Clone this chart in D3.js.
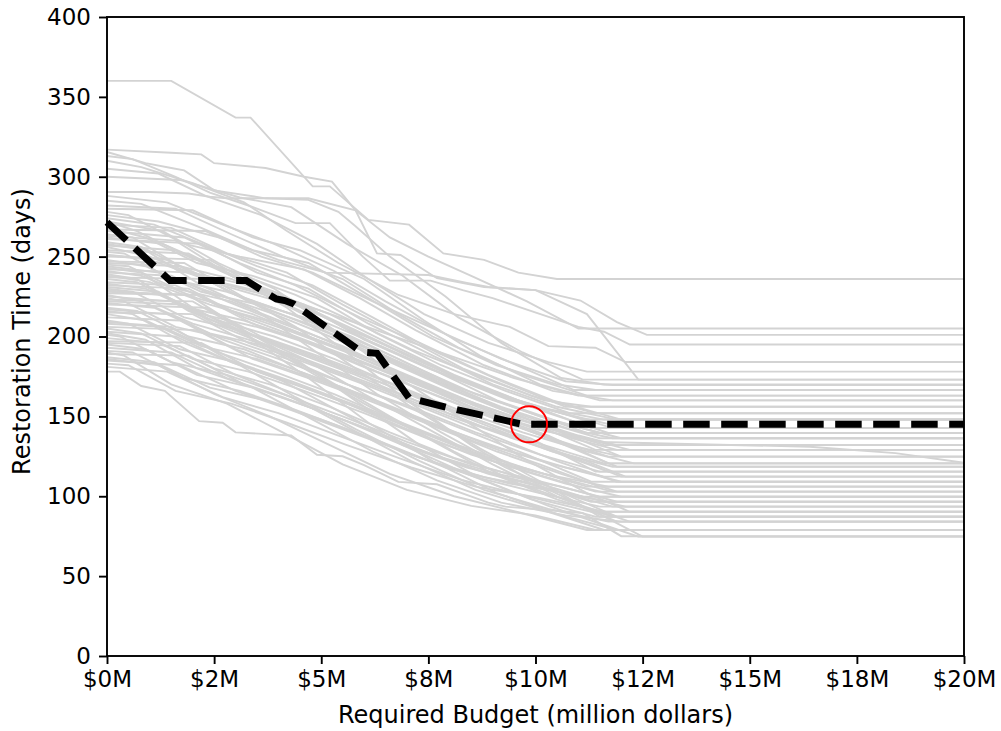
<!DOCTYPE html>
<head>
    <script src="https://d3js.org/d3.v7.min.js"></script>
    <style>
        body { margin: 0; background: white; }
        svg text { font-family: "DejaVu Sans", sans-serif; fill: black; }
        .gray { fill: none; stroke: #d3d3d3; stroke-width: 1.9; }
        .best { fill: none; stroke: black; stroke-width: 7; stroke-dasharray: 26.5 11.5; }
    </style>
</head>
<body>
    <svg width="1001" height="731"></svg>
</body>
<script>
    // budget (million $) vs restoration time (days), one list per scenario
    var scenarios = [
        [[0,360],[1.5,360],[3,337],[3.35,337],[4.8,294],[5.2,294],[6.1,273],[7.05,270],[7.85,252],[8.8,248],[9.6,240],[10.5,236],[20,236]],
        [[0,317],[1.5,315],[2.2,314],[2.5,308.5],[3.7,305.5],[4.6,300],[5.25,297],[5.8,279],[6.3,252],[6.85,251],[7.7,236.5],[8.8,231],[10,229],[11.05,222.5],[11.9,209],[12.6,201],[20,201]],
        [[0,315.5],[0.9,308.5],[1.5,305.5],[1.8,304],[2.5,291.5],[3.7,286.5],[4.7,286.5],[5.8,279],[6.6,262],[7.5,250],[8.5,238],[9.8,222],[11,205],[20,205]],
        [[0,313],[0.6,311],[1.6,300],[2.4,290],[3.3,282],[4.4,271],[5.2,271],[5.97,250],[6.6,235],[7.55,235],[8.3,229],[9,224],[11,206],[11.6,203],[12.2,195],[20,195]],
        [[0,310],[0.8,306],[2,296],[3.2,284],[4.2,266],[5.4,246],[6.8,226],[8.1,214],[9.4,206],[10.3,194],[11.4,193],[12.1,184],[20,184]],
        [[0,305],[1.2,302],[2.3,288],[3.6,276],[4.9,258],[6.1,236],[7.4,214],[8.9,196],[10.3,184],[11.2,178],[20,178]],
        [[0,300],[1.7,298],[3.1,287],[4.3,281],[5.6,258],[6.9,238],[8.2,212],[9.7,190],[11.1,173],[20,173]],
        [[0,290.5],[1,290.5],[1.9,289.5],[2.4,287.5],[2.8,286.5],[3.7,286.5],[4.7,285.5],[5.4,278],[5.8,269],[6.6,250],[7.9,225],[9.2,196],[10.6,174],[11.6,170],[20,170]],
        [[0,288],[1.4,284],[2.7,270],[3.9,258],[5.3,241],[6.5,222],[8,200],[9.4,184],[10.9,166.5],[20,166.5]],
        [[0,285],[0.8,283],[2.2,268],[3.4,254],[4.7,246],[6.1,224],[7.6,200],[9.1,182],[10.5,170],[11.4,166.5],[20,166.5]],
        [[0,282],[1.6,280],[2.9,264],[4.1,250],[5.5,236],[6.8,214],[8.2,193],[9.7,176],[11.2,163],[20,163]],
        [[0,280],[2,279],[3.4,262],[4.5,254],[6,236],[7.4,210],[8.7,188],[10.1,170],[11.5,160],[20,160]],
        [[0,278],[0.5,276],[1.8,258],[3.1,250],[4.6,242],[5.9,224],[7.2,204],[8.8,182],[10.4,166],[11.8,160],[20,160]],
        [[0,276],[1.2,272],[2.6,262],[4,248],[5.1,240],[7.5,238.5],[8.4,233.5],[8.9,231],[10,229],[11.2,214],[12.4,173],[20,173]],
        [[0,274],[1.1,270],[2.4,256],[3.5,244],[4.8,232],[6.2,212],[7.7,190],[9.2,172],[10.7,156],[20,156]],
        [[0,272],[0.7,266],[1.9,250],[3,240],[4.4,226],[5.7,210],[7.1,192],[8.6,176],[10.2,160],[11.3,156],[20,156]],
        [[0,270],[1.5,268],[2.8,252],[4.2,240],[5.5,220],[6.9,200],[8.3,180],[9.9,163],[11.4,152],[20,152]],
        [[0,268],[0.9,262],[2.1,246],[3.4,238],[4.9,224],[6.3,202],[7.8,182],[9.3,166],[10.8,152],[20,152]],
        [[0,266],[1.8,262],[3.1,246],[4.4,232],[5.9,212],[7.3,196],[8.9,176],[10.4,160],[12,148],[20,148]],
        [[0,264],[0.6,262],[1.7,244],[2.9,236],[4.2,222],[5.6,206],[7,188],[8.5,170],[10,156],[11.6,148],[20,148]],
        [[0,262],[1.3,258],[2.5,244],[3.8,228],[5.2,214],[6.7,194],[8.1,176],[9.6,160],[11.1,148],[20,148]],
        [[0,261],[2.2,258],[3.5,240],[4.7,230],[6.1,208],[7.6,188],[9,170],[10.5,156],[11.9,148],[20,148]],
        [[0,259],[0.8,256],[2,240],[3.3,232],[4.6,220],[6,198],[7.5,180],[9.1,164],[10.6,152],[12.1,142.7],[20,142.7]],
        [[0,257],[1.6,254],[2.9,238],[4.1,226],[5.5,206],[6.9,190],[8.4,172],[9.8,158],[11.3,142.7],[20,142.7]],
        [[0,256],[1,250],[2.3,236],[3.7,226],[5,210],[6.4,194],[7.9,176],[9.4,160],[10.9,150],[11.8,142.7],[20,142.7]],
        [[0,254],[1.9,252],[3.2,234],[4.5,220],[5.8,204],[7.2,186],[8.7,168],[10.3,152],[11.7,139.6],[20,139.6]],
        [[0,253],[0.4,252],[1.5,236],[2.8,228],[4.3,214],[5.7,200],[7.1,182],[8.6,164],[10.1,150],[11.5,139.6],[20,139.6]],
        [[0,251],[1.4,248],[2.7,232],[4,222],[5.3,204],[6.8,186],[8.2,168],[9.7,154],[11.2,139.6],[20,139.6]],
        [[0,250],[2.4,248],[3.6,230],[4.8,216],[6.2,196],[7.7,178],[9.1,160],[10.6,146],[12,136.3],[20,136.3]],
        [[0,248],[0.9,244],[2.2,228],[3.5,220],[4.8,206],[6.3,190],[7.7,172],[9.2,156],[10.8,142],[11.8,136.3],[20,136.3]],
        [[0,246],[1.7,244],[3,226],[4.3,214],[5.7,198],[7,180],[8.5,162],[10,148],[11.5,136.3],[20,136.3]],
        [[0,245],[0.5,244],[1.6,230],[2.9,222],[4.2,208],[5.6,192],[7,176],[8.6,158],[10.1,144],[11.6,132],[20,132]],
        [[0,244],[1.2,240],[2.6,226],[3.9,214],[5.2,200],[6.6,184],[8.1,166],[9.6,150],[11,138],[11.9,132],[20,132]],
        [[0,242],[2,240],[3.3,222],[4.6,212],[6,194],[7.5,176],[8.9,158],[10.4,142],[11.8,132],[20,132]],
        [[0,241],[0.8,238],[2.1,224],[3.4,214],[4.7,200],[6.1,186],[7.6,168],[9.1,152],[10.6,140],[12.2,129],[20,129]],
        [[0,240],[1.5,238],[2.8,222],[4.1,208],[5.5,194],[6.9,176],[8.4,160],[9.9,146],[11.4,129],[20,129]],
        [[0,238],[1,234],[2.4,220],[3.7,210],[5.1,196],[6.5,180],[7.9,164],[9.4,148],[10.9,136],[11.9,129],[20,129]],
        [[0,237],[2.3,236],[3.6,218],[4.9,206],[6.3,188],[7.8,172],[9.3,154],[10.8,138],[12,124.8],[20,124.8]],
        [[0,236],[0.7,234],[1.9,218],[3.2,210],[4.5,198],[5.9,182],[7.4,166],[8.9,150],[10.4,136],[11.7,124.8],[20,124.8]],
        [[0,234],[1.6,232],[2.9,216],[4.2,204],[5.6,190],[7,174],[8.5,156],[10,142],[11.5,134],[16.4,131],[18.4,127],[20,121]],
        [[0,233],[0.9,230],[2.2,214],[3.5,206],[4.9,194],[6.3,178],[7.8,162],[9.3,146],[10.8,132],[12,124.8],[20,124.8]],
        [[0,232],[1.9,230],[3.2,212],[4.4,200],[5.8,186],[7.3,170],[8.8,152],[10.3,138],[11.7,120.6],[20,120.6]],
        [[0,230],[0.6,228],[1.8,212],[3.1,204],[4.4,190],[5.8,176],[7.2,160],[8.7,144],[10.2,132],[11.6,120.6],[20,120.6]],
        [[0,229],[1.3,226],[2.6,210],[3.9,200],[5.3,186],[6.7,170],[8.2,154],[9.7,140],[11.2,128],[12.3,120.6],[20,120.6]],
        [[0,228],[2.1,226],[3.4,208],[4.7,196],[6.1,182],[7.6,166],[9,150],[10.5,134],[11.9,118.5],[20,118.5]],
        [[0,226],[0.8,222],[2,208],[3.3,198],[4.6,186],[6,172],[7.4,158],[8.9,142],[10.4,128],[11.8,118.5],[20,118.5]],
        [[0,225],[1.5,222],[2.8,206],[4.1,194],[5.5,180],[6.9,166],[8.4,150],[9.9,136],[11.4,115.4],[20,115.4]],
        [[0,224],[0.4,222],[1.6,206],[2.9,198],[4.2,186],[5.6,170],[7.1,156],[8.6,140],[10.1,126],[11.5,115.4],[20,115.4]],
        [[0,222],[1.8,220],[3.1,204],[4.4,192],[5.8,178],[7.2,162],[8.7,146],[10.2,130],[11.7,115.4],[20,115.4]],
        [[0,221],[1.1,218],[2.4,202],[3.7,194],[5.1,180],[6.5,166],[8,150],[9.5,136],[11,124],[12.1,112.3],[20,112.3]],
        [[0,220],[2.3,218],[3.6,200],[4.9,188],[6.3,174],[7.7,158],[9.2,142],[10.7,126],[12,112.3],[20,112.3]],
        [[0,218],[0.7,216],[1.9,200],[3.2,192],[4.5,178],[5.9,164],[7.4,148],[8.9,132],[10.4,120],[11.6,112.3],[20,112.3]],
        [[0,217],[1.4,214],[2.7,198],[4,186],[5.4,172],[6.8,158],[8.3,142],[9.8,126],[11.3,109.1],[20,109.1]],
        [[0,215],[2,214],[3.3,196],[4.6,184],[6,170],[7.5,154],[9,138],[10.5,122],[11.9,109.1],[20,109.1]],
        [[0,214],[0.9,210],[2.2,194],[3.5,186],[4.8,174],[6.2,160],[7.7,144],[9.2,130],[10.7,118],[12,109.1],[20,109.1]],
        [[0,212],[1.7,210],[3,192],[4.3,180],[5.7,166],[7.1,150],[8.6,134],[10.1,120],[11.5,106],[20,106]],
        [[0,210],[0.5,208],[1.7,192],[3,184],[4.3,172],[5.7,158],[7.2,142],[8.7,126],[10.2,114],[11.7,106],[20,106]],
        [[0,208],[1.3,206],[2.6,190],[3.9,178],[5.3,164],[6.7,148],[8.2,132],[9.7,118],[11.2,106],[20,106]],
        [[0,206],[2.1,204],[3.4,186],[4.7,174],[6.1,160],[7.6,144],[9.1,128],[10.6,114],[11.9,102.9],[20,102.9]],
        [[0,205],[0.8,202],[2,186],[3.3,178],[4.6,166],[6,152],[7.5,136],[9,122],[10.5,112],[11.8,102.9],[20,102.9]],
        [[0,203],[1.6,200],[2.9,184],[4.2,172],[5.6,158],[7,142],[8.5,126],[10,114],[11.4,102.9],[20,102.9]],
        [[0,201],[0.3,200],[1.5,184],[2.8,176],[4.1,164],[5.5,150],[7,134],[8.5,120],[10,110],[11.5,99.7],[20,99.7]],
        [[0,199],[1.2,196],[2.5,180],[3.8,170],[5.2,156],[6.6,140],[8.1,124],[9.6,112],[11.1,99.7],[20,99.7]],
        [[0,197],[2.2,196],[3.5,178],[4.8,166],[6.2,152],[7.7,136],[9.2,120],[10.7,108],[12,99.7],[20,99.7]],
        [[0,195],[0.9,192],[2.1,176],[3.4,168],[4.7,156],[6.1,142],[7.6,126],[9.1,114],[10.6,106],[11.9,96.6],[20,96.6]],
        [[0,193],[1.5,190],[2.8,174],[4.1,162],[5.5,148],[6.9,132],[8.4,118],[9.9,108],[11.3,96.6],[20,96.6]],
        [[0,191],[0.6,190],[1.8,174],[3.1,166],[4.4,154],[5.8,140],[7.3,124],[8.8,112],[10.3,104],[11.7,96.6],[20,96.6]],
        [[0,189],[1.9,188],[3.2,170],[4.5,158],[5.9,144],[7.4,128],[8.9,114],[10.4,104],[11.8,93.5],[20,93.5]],
        [[0,187],[1.1,184],[2.4,168],[3.7,160],[5,148],[6.4,134],[7.9,118],[9.4,108],[10.9,101],[12.1,93.5],[20,93.5]],
        [[0,185],[1.7,182],[3,166],[4.3,154],[5.7,140],[7.1,126],[8.6,112],[10.1,102],[11.5,93.5],[20,93.5]],
        [[0,183],[0.5,182],[1.6,166],[2.9,158],[4.2,146],[5.6,132],[7.1,118],[8.6,106],[10.1,99],[11.6,90.3],[20,90.3]],
        [[0,181],[1.4,178],[2.7,162],[4,152],[5.4,138],[6.8,124],[8.3,110],[9.8,100],[11.3,90.3],[20,90.3]],
        [[0,178],[0.3,178],[0.8,169],[1.35,166],[2.15,147],[2.7,146],[3,140],[4.3,138],[4.9,126],[5.5,125],[6,119.5],[6.8,109],[7.7,107.5],[8.9,96],[9.3,93.5],[11.1,89.5],[12,75],[20,75]],
        [[0,272],[1.3,266],[2.6,246],[3.9,230],[5.3,204],[6.7,176],[8.2,150],[9.7,124],[11.2,102],[12.2,90.3],[20,90.3]],
        [[0,258],[0.9,254],[2.2,232],[3.5,216],[4.9,190],[6.3,164],[7.8,140],[9.3,118],[10.8,100],[11.9,87.2],[20,87.2]],
        [[0,247],[1.8,246],[3.1,226],[4.4,206],[5.8,180],[7.2,154],[8.7,130],[10.2,108],[11.5,87.2],[20,87.2]],
        [[0,239],[0.7,236],[1.9,216],[3.2,202],[4.6,180],[6,158],[7.5,136],[9,114],[10.5,98],[11.8,87.2],[20,87.2]],
        [[0,231],[1.2,228],[2.5,208],[3.8,194],[5.2,172],[6.6,150],[8.1,128],[9.6,108],[11.1,94],[12.2,84.1],[20,84.1]],
        [[0,223],[2,222],[3.3,202],[4.6,186],[6,164],[7.5,142],[9,120],[10.5,100],[11.9,84.1],[20,84.1]],
        [[0,216],[0.6,214],[1.8,196],[3.1,182],[4.4,162],[5.8,142],[7.3,122],[8.8,104],[10.3,92],[11.7,84.1],[20,84.1]],
        [[0,209],[1.5,206],[2.8,186],[4.1,172],[5.5,152],[6.9,132],[8.4,114],[9.9,98],[11.4,87.2],[20,87.2]],
        [[0,202],[0.9,198],[2.1,180],[3.4,168],[4.8,148],[6.2,128],[7.7,110],[9.2,96],[10.7,88],[12,84.1],[20,84.1]],
        [[0,196],[1.7,194],[3,176],[4.3,162],[5.7,142],[7.1,122],[8.6,104],[10.1,92],[11.6,78.9],[20,78.9]],
        [[0,190],[0.4,188],[1.5,170],[2.8,158],[4.1,140],[5.5,120],[7,104],[8.5,94],[10,88],[11.4,78.9],[20,78.9]],
        [[0,186],[1.2,182],[2.5,164],[3.8,150],[5.2,132],[6.6,114],[8.1,100],[9.6,90],[11.2,78.9],[20,78.9]],
        [[0,263],[1.6,260],[2.9,238],[4.2,218],[5.6,190],[7,160],[8.5,132],[10,108],[11.4,90],[12.5,74.7],[20,74.7]],
        [[0,243],[0.8,240],[2,218],[3.3,200],[4.7,174],[6.1,146],[7.6,122],[9.1,102],[10.6,88],[11.9,78.9],[20,78.9]],
        [[0,227],[1.9,226],[3.2,204],[4.5,184],[5.9,158],[7.3,132],[8.8,110],[10.3,94],[11.6,82],[12.4,74.7],[20,74.7]],
        [[0,267],[2.3,266],[3.6,250],[4.8,240],[6.2,222],[7.7,204],[9.2,186],[10.7,172],[11.8,169.6],[20,169.6]],
        [[0,251],[1,248],[2.3,236],[3.6,228],[5,216],[6.5,202],[8,188],[9.5,174],[11,163],[20,163]]
    ]

    // chosen plan (dashed) and its selected point
    var bestPlan = [[0,271.5],[1.47,235],[3.25,235],[3.95,223.5],[4.15,222.5],[4.35,220.5],[5.85,192],[6.05,190],[6.3,189.5],[7.05,161.5],[7.95,155.5],[9.7,145],[20,145]]
    var selected = [9.85, 145]

    var xTicks = [0, 2.5, 5, 7.5, 10, 12.5, 15, 17.5, 20]
    var xTickLabels = ["$0M", "$2M", "$5M", "$8M", "$10M", "$12M", "$15M", "$18M", "$20M"]
    var yTicks = [0, 50, 100, 150, 200, 250, 300, 350, 400]

    var margin = {top: 17, right: 37, bottom: 75, left: 107}
    var width = 1001 - margin.left - margin.right
    var height = 731 - margin.top - margin.bottom

    var svg = d3.select("svg")
    var g = svg.append("g").attr("transform", "translate(" + margin.left + "," + margin.top + ")")

    var x = d3.scaleLinear().domain([0, 20]).range([0, width])
    var y = d3.scaleLinear().domain([0, 400]).range([height, 0])

    var line = d3.line()
        .x(d => x(d[0]))
        .y(d => y(d[1]))

    var plot = g.append("g")
    plot.selectAll("path.gray")
        .data(scenarios)
        .enter().append("path")
        .attr("class", "gray")
        .attr("d", line)

    plot.append("path")
        .datum(bestPlan)
        .attr("class", "best")
        .attr("d", line)

    plot.append("circle")
        .attr("cx", x(selected[0]))
        .attr("cy", y(selected[1]))
        .attr("r", 18)
        .attr("fill", "none")
        .attr("stroke", "red")
        .attr("stroke-width", 2)

    // frame
    g.append("rect")
        .attr("width", width)
        .attr("height", height)
        .attr("fill", "none")
        .attr("stroke", "black")
        .attr("stroke-width", 1.9)

    g.append("g")
        .attr("transform", "translate(0," + height + ")")
        .call(d3.axisBottom(x).tickValues(xTicks).tickFormat((d, i) => xTickLabels[i]).tickSize(8).tickPadding(7))
    g.append("g")
        .call(d3.axisLeft(y).tickValues(yTicks).tickSize(8).tickPadding(8))

    g.selectAll(".domain").remove()
    g.selectAll(".tick line").attr("stroke", "black").attr("stroke-width", 1.9)
    g.selectAll(".tick text").style("font-size", "23px").style("font-family", "DejaVu Sans")

    g.append("text")
        .attr("x", width / 2)
        .attr("y", height + 67)
        .attr("text-anchor", "middle")
        .style("font-size", "24px")
        .text("Required Budget (million dollars)")

    g.append("text")
        .attr("transform", "rotate(-90)")
        .attr("x", -height / 2 + 5)
        .attr("y", -77)
        .attr("text-anchor", "middle")
        .style("font-size", "24px")
        .text("Restoration Time (days)")
</script>
